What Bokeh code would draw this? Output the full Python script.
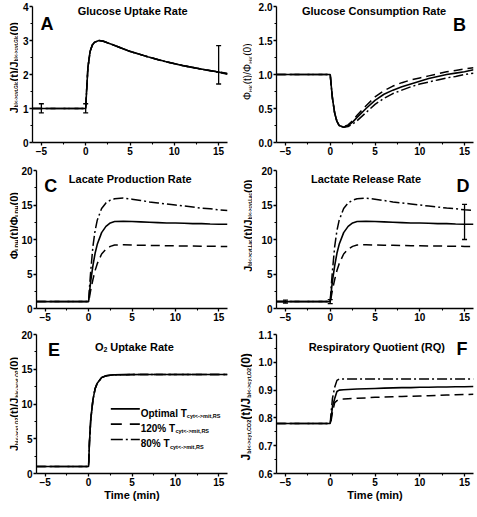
import math
from bokeh.plotting import figure
from bokeh.models import Range1d, FixedTicker, PrintfTickFormatter, Label
from bokeh.layouts import column, row
from bokeh.embed import file_html
from bokeh.resources import INLINE

FONT = "Liberation Sans"

# ---------------- data ----------------
time_min = [-6, 0, 0.1, 0.25, 0.5, 0.75, 1, 1.5, 2, 2.5, 3, 4, 5, 6, 7, 8, 9, 10, 11, 12, 13, 14, 15, 16]

glc_uptake_opt = [1, 1, 1.5, 2.2, 2.68, 2.87, 2.95, 3.0, 2.98, 2.93, 2.88, 2.78, 2.68, 2.60, 2.52, 2.45, 2.38, 2.32, 2.26, 2.21, 2.16, 2.12, 2.07, 2.02]
glc_uptake_120 = [1, 1, 1.5, 2.2, 2.68, 2.87, 2.95, 3.0, 2.98, 2.93, 2.88, 2.78, 2.68, 2.60, 2.52, 2.45, 2.38, 2.32, 2.26, 2.21, 2.16, 2.12, 2.08, 2.03]
glc_uptake_80 = [1, 1, 1.5, 2.2, 2.68, 2.87, 2.95, 3.0, 2.98, 2.93, 2.88, 2.78, 2.68, 2.60, 2.52, 2.45, 2.38, 2.32, 2.26, 2.21, 2.16, 2.11, 2.06, 2.01]
glc_uptake_err_t = [-5, 0, 15]
glc_uptake_err_lo = [0.87, 0.87, 1.72]
glc_uptake_err_hi = [1.14, 1.14, 2.85]

hk_opt = [1, 1, 0.85, 0.65, 0.43, 0.31, 0.25, 0.225, 0.25, 0.30, 0.37, 0.50, 0.62, 0.71, 0.77, 0.82, 0.86, 0.90, 0.94, 0.97, 1.0, 1.02, 1.04, 1.07]
hk_120 = [1, 1, 0.85, 0.65, 0.43, 0.31, 0.25, 0.23, 0.26, 0.32, 0.40, 0.54, 0.67, 0.76, 0.83, 0.88, 0.92, 0.95, 0.98, 1.01, 1.04, 1.06, 1.08, 1.10]
hk_80 = [1, 1, 0.85, 0.65, 0.43, 0.31, 0.25, 0.225, 0.235, 0.27, 0.32, 0.44, 0.56, 0.65, 0.72, 0.77, 0.82, 0.86, 0.89, 0.92, 0.95, 0.97, 1.0, 1.02]

ldh_opt = [1, 1, 2.3, 4.0, 6.2, 8.0, 9.3, 11.0, 11.9, 12.4, 12.6, 12.65, 12.6, 12.55, 12.5, 12.45, 12.4, 12.4, 12.35, 12.3, 12.3, 12.25, 12.22, 12.2]
ldh_120 = [1, 1, 1.6, 2.7, 4.2, 5.5, 6.5, 7.9, 8.6, 9.0, 9.2, 9.25, 9.2, 9.17, 9.15, 9.12, 9.1, 9.08, 9.06, 9.05, 9.03, 9.02, 9.0, 9.0]
ldh_80 = [1, 1, 3.0, 5.5, 9.0, 11.3, 12.8, 14.5, 15.3, 15.7, 15.9, 16.0, 15.85, 15.65, 15.45, 15.3, 15.15, 15.0, 14.85, 14.7, 14.55, 14.45, 14.3, 14.2]

lac_rel_opt = [1, 1, 2.3, 4.0, 6.2, 8.0, 9.3, 11.0, 11.9, 12.4, 12.6, 12.65, 12.6, 12.55, 12.5, 12.45, 12.4, 12.4, 12.35, 12.3, 12.3, 12.25, 12.22, 12.2]
lac_rel_120 = [1, 1, 1.6, 2.7, 4.2, 5.5, 6.5, 7.9, 8.6, 9.0, 9.2, 9.25, 9.2, 9.17, 9.15, 9.12, 9.1, 9.08, 9.06, 9.05, 9.03, 9.02, 9.0, 9.0]
lac_rel_80 = [1, 1, 3.0, 5.5, 9.0, 11.3, 12.8, 14.5, 15.3, 15.7, 15.9, 16.0, 15.85, 15.65, 15.45, 15.3, 15.15, 15.0, 14.85, 14.7, 14.55, 14.45, 14.3, 14.2]
lac_rel_err_t = [-5, 0, 15]
lac_rel_err_lo = [0.8, 0.7, 10.0]
lac_rel_err_hi = [1.2, 1.3, 15.1]

o2_opt = [1, 1, 4.5, 7.8, 10.6, 12.2, 13.0, 13.8, 14.05, 14.15, 14.2, 14.22, 14.23, 14.24, 14.25, 14.25, 14.25, 14.25, 14.25, 14.25, 14.25, 14.25, 14.25, 14.25]
o2_120 = [1, 1, 4.5, 7.8, 10.6, 12.2, 13.0, 13.8, 14.05, 14.15, 14.2, 14.22, 14.23, 14.24, 14.25, 14.25, 14.25, 14.25, 14.25, 14.25, 14.25, 14.25, 14.25, 14.25]
o2_80 = [1, 1, 4.5, 7.8, 10.6, 12.2, 13.0, 13.8, 14.05, 14.15, 14.2, 14.22, 14.23, 14.24, 14.25, 14.25, 14.25, 14.25, 14.25, 14.25, 14.25, 14.25, 14.25, 14.25]

rq_opt = [0.78, 0.78, 0.80, 0.84, 0.87, 0.895, 0.9, 0.901, 0.902, 0.903, 0.904, 0.905, 0.906, 0.907, 0.908, 0.909, 0.909, 0.91, 0.91, 0.911, 0.911, 0.912, 0.912, 0.913]
rq_120 = [0.78, 0.78, 0.79, 0.82, 0.855, 0.862, 0.866, 0.868, 0.869, 0.87, 0.871, 0.872, 0.874, 0.875, 0.876, 0.877, 0.878, 0.879, 0.88, 0.881, 0.882, 0.883, 0.884, 0.885]
rq_80 = [0.78, 0.78, 0.82, 0.87, 0.91, 0.935, 0.94, 0.94, 0.94, 0.94, 0.94, 0.94, 0.94, 0.94, 0.94, 0.94, 0.94, 0.94, 0.94, 0.94, 0.94, 0.94, 0.94, 0.94]

x_ticks = [-5, 0, 5, 10, 15]
x_minor = [-2.5, 2.5, 7.5, 12.5]
legend_labels = ["Optimal T", "120% T", "80% T"]
legend_sub = "cyt<->mit,RS"

# ---------------- layout geometry ----------------
LABW = [18, 22]                               # width of the y-title strip per column
COLS = [(212, 14, 3), (224, 24, 3)]           # figure width, border left, border right
ROWS = [(164, 6, 22), (166, 6, 22), (179, 4, 36)]    # figure height, border top, border bottom
X0, X1 = -6, 16
DASH = "9 5"
DASHDOT = "10 3 2 3"

W = {'(': .333, ')': .333, '/': .278, ',': .278, '-': .333, '<': .584, '>': .584, '%': .889,
     ' ': .278, '.': .278, 'A': .722, 'B': .722, 'C': .722, 'D': .722, 'E': .667, 'F': .611,
     'G': .778, 'H': .722, 'J': .556, 'K': .722, 'L': .611, 'O': .778, 'P': .667, 'Q': .778,
     'R': .722, 'S': .667, 'T': .611, 'U': .722, 'a': .556, 'b': .611, 'c': .556, 'd': .611,
     'e': .556, 'i': .278, 'k': .556, 'l': .278, 'm': .889, 'n': .611, 'o': .611, 'p': .611,
     'r': .389, 's': .556, 't': .333, 'u': .611, 'y': .556, 'Φ': .78}


def tw(s, size):
    return sum(W.get(c, 0.556) for c in s) * size


def make_panel(col, rw, yr, yticks, yminor, fmt=None):
    w, bl, br = COLS[col]
    h, bt, bb = ROWS[rw]
    p = figure(width=w, height=h, min_border_left=bl, min_border_right=br,
               min_border_top=bt, min_border_bottom=bb, x_range=Range1d(X0, X1),
               y_range=Range1d(*yr), output_backend="svg", toolbar_location=None)
    p.outline_line_color = None
    p.xgrid.visible = False
    p.ygrid.visible = False
    p.background_fill_color = "white"
    p.border_fill_color = "white"
    p.xaxis.ticker = FixedTicker(ticks=x_ticks, minor_ticks=x_minor)
    p.yaxis.ticker = FixedTicker(ticks=yticks, minor_ticks=yminor)
    if fmt:
        p.yaxis.formatter = PrintfTickFormatter(format=fmt)
    for ax in p.axis:
        ax.axis_line_width = 1.3
        ax.axis_line_color = "black"
        ax.major_tick_line_width = 1.3
        ax.minor_tick_line_width = 1.1
        ax.major_tick_line_color = "black"
        ax.minor_tick_line_color = "black"
        ax.major_tick_out = 3
        ax.major_tick_in = 0
        ax.minor_tick_out = 2
        ax.minor_tick_in = 0
        ax.major_label_text_font = FONT
        ax.major_label_text_font_style = "bold"
        ax.major_label_text_font_size = "10px"
        ax.major_label_text_color = "black"
        ax.major_label_standoff = 1
    fw = w - bl - br
    fh = h - bt - bb
    g = dict(ppx=fw / (X1 - X0), ppy=fh / (yr[1] - yr[0]), y0=yr[0], y1=yr[1], fh=fh, col=col, rw=rw)
    return p, g


def yd(g, px_below_top):
    return g['y1'] - px_below_top / g['ppy']


def lab(p, x, y, text, size, style="bold", align="left", baseline="alphabetic", angle=0.0):
    p.add_layout(Label(x=x, y=y, text=text, text_font=FONT, text_font_size=f"{size}px",
                       text_font_style=style, text_align=align, text_baseline=baseline,
                       text_color="black", angle=angle, angle_units="rad"))


def title_strip(g, parts, xbase, frac, style="bold"):
    """Narrow figure left of a panel holding its rotated y title (units: pixels)."""
    col, rw = g['col'], g['rw']
    lw = LABW[col]
    h, bt, bb = ROWS[rw]
    fh = h - bt - bb
    f = figure(width=lw, height=h, min_border_left=0, min_border_right=0,
               min_border_top=bt, min_border_bottom=bb, x_range=Range1d(0, lw),
               y_range=Range1d(0, fh), x_axis_location=None, y_axis_location=None,
               output_backend="svg", toolbar_location=None)
    f.outline_line_color = None
    f.xgrid.visible = False
    f.ygrid.visible = False
    f.background_fill_color = "white"
    f.border_fill_color = "white"
    total = sum(tw(t, s) for t, s, sub in parts)
    y = fh - (frac * fh + total / 2)
    for t, s, sub in parts:
        x = xbase + (3 if sub else 0)
        lab(f, x, y, t, s, style=style, angle=math.pi / 2)
        y += tw(t, s)
    return f


def curves(p, opt, c120, c80):
    p.line(time_min, c120, line_color="black", line_width=1.5, line_dash=DASH)
    p.line(time_min, c80, line_color="black", line_width=1.5, line_dash=DASHDOT)
    p.line(time_min, opt, line_color="black", line_width=1.6)


def errbars(p, g, ts, lo, hi):
    cw = 2.5 / g['ppx']
    p.segment(x0=ts, y0=lo, x1=ts, y1=hi, line_color="black", line_width=1.3)
    p.segment(x0=[t - cw for t in ts], y0=lo, x1=[t + cw for t in ts], y1=lo, line_color="black", line_width=1.3)
    p.segment(x0=[t - cw for t in ts], y0=hi, x1=[t + cw for t in ts], y1=hi, line_color="black", line_width=1.3)


def time_axis(p):
    p.xaxis.axis_label = "Time (min)"
    p.xaxis.axis_label_text_font = FONT
    p.xaxis.axis_label_text_font_style = "bold"
    p.xaxis.axis_label_text_font_size = "11px"
    p.xaxis.axis_label_text_color = "black"
    p.xaxis.axis_label_standoff = 0


# ---------------- Panel A ----------------
pA, gA = make_panel(0, 0, (0, 4), [0, 1, 2, 3, 4], [0.5, 1.5, 2.5, 3.5])
curves(pA, glc_uptake_opt, glc_uptake_120, glc_uptake_80)
errbars(pA, gA, glc_uptake_err_t, glc_uptake_err_lo, glc_uptake_err_hi)
lab(pA, 5.3, yd(gA, 4), "Glucose Uptake Rate", 11, align="center")
lab(pA, -5.1, yd(gA, 17), "A", 18)
sA = title_strip(gA, [("J", 11, 0), ("bl<->cyt,Glc", 4.5, 1), ("(t)/J", 11, 0), ("bl<->cyt,Glc", 4.5, 1), ("(0)", 11, 0)], 13, 0.45)

# ---------------- Panel B ----------------
pB, gB = make_panel(1, 0, (0, 2), [0, 0.5, 1.0, 1.5, 2.0], [0.25, 0.75, 1.25, 1.75], "%.1f")
curves(pB, hk_opt, hk_120, hk_80)
lab(pB, 4.9, yd(gB, 4), "Glucose Consumption Rate", 11, align="center")
lab(pB, 13.7, yd(gB, 18), "B", 18)
sB = title_strip(gB, [("Φ", 10, 0), ("HK", 5.5, 1), ("(t)/Φ", 10, 0), ("HK", 5.5, 1), ("(0)", 10, 0)], 17, 0.48, style="normal")

# ---------------- Panel C ----------------
pC, gC = make_panel(0, 1, (0, 20), [0, 5, 10, 15, 20], [2.5, 7.5, 12.5, 17.5])
curves(pC, ldh_opt, ldh_120, ldh_80)
lab(pC, 4.8, yd(gC, 8), "Lacate Production Rate", 11, align="center")
lab(pC, -5.1, yd(gC, 15), "C", 18)
sC = title_strip(gC, [("Φ", 11, 0), ("LDH", 5.5, 1), ("(t)/Φ", 11, 0), ("LDH", 5.5, 1), ("(0)", 11, 0)], 13, 0.40)

# ---------------- Panel D ----------------
pD, gD = make_panel(1, 1, (0, 20), [0, 5, 10, 15, 20], [2.5, 7.5, 12.5, 17.5])
curves(pD, lac_rel_opt, lac_rel_120, lac_rel_80)
errbars(pD, gD, lac_rel_err_t, lac_rel_err_lo, lac_rel_err_hi)
lab(pD, 4.0, yd(gD, 8), "Lactate Release Rate", 11, align="center")
lab(pD, 14.1, yd(gD, 15), "D", 18)
sD = title_strip(gD, [("J", 11, 0), ("bl<->cyt,Lac", 4.5, 1), ("(t)/J", 11, 0), ("bl<->cyt,Lac", 4.5, 1), ("(0)", 11, 0)], 17, 0.40)

# ---------------- Panel E ----------------
pE, gE = make_panel(0, 2, (0, 20), [0, 5, 10, 15, 20], [2.5, 7.5, 12.5, 17.5])
curves(pE, o2_opt, o2_120, o2_80)
time_axis(pE)
lab(pE, -4.67, yd(gE, 15), "E", 18)
t_parts = [("O", 11, 0), ("2", 7, 1), (" ", 11, 0), ("Uptake Rate", 11, 0)]
tot = sum(tw(t, s) for t, s, sub in t_parts)
xx = 5.2 - tot / 2 / gE['ppx']
for t, s, sub in t_parts:
    if t.strip():
        lab(pE, xx, yd(gE, 12 + (3 if sub else 0)), t, s)
    xx += tw(t, s) / gE['ppx']
sE = title_strip(gE, [("J", 11, 0), ("bl<->cyt,O2", 5, 1), ("(t)/J", 11, 0), ("bl<->cyt,O2", 5, 1), ("(0)", 11, 0)], 13, 0.50)
leg_y = [9.3, 7.1, 4.9]
leg_dash = ["solid", "11 8", "12 3 2 3"]
for yv, txt, dsh in zip(leg_y, legend_labels, leg_dash):
    pE.line([2.56, 5.9], [yv, yv], line_color="black", line_width=1.6, line_dash=dsh)
    lab(pE, 6.0, yv - 4.3 / gE['ppy'], txt, 10)
    lab(pE, 6.0 + (tw(txt, 10) + 1) / gE['ppx'], yv - 7.3 / gE['ppy'], legend_sub, 5.5)

# ---------------- Panel F ----------------
pF, gF = make_panel(1, 2, (0.6, 1.1), [0.6, 0.7, 0.8, 0.9, 1.0, 1.1], [0.65, 0.75, 0.85, 0.95, 1.05], "%.1f")
curves(pF, rq_opt, rq_120, rq_80)
time_axis(pF)
lab(pF, 5.2, yd(gF, 12), "Respiratory Quotient (RQ)", 11, align="center")
lab(pF, 14.1, yd(gF, 14), "F", 18)
sF = title_strip(gF, [("J", 12, 0), ("bl<->cyt,CO2", 5.5, 1), ("(t)/J", 12, 0), ("bl<->cyt,O2", 5.5, 1), ("(0)", 12, 0)], 15, 0.52)

layout = column(row(sA, pA, sB, pB), row(sC, pC, sD, pD), row(sE, pE, sF, pF))
open("out.html", "w").write(file_html(layout, INLINE))
